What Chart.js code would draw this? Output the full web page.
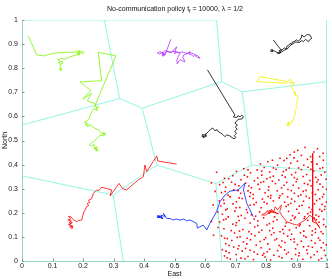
<!DOCTYPE html>
<html>
<head>
<meta charset="utf-8">
<script src="https://cdn.jsdelivr.net/npm/chart.js@4"></script>
<style>
  body { margin: 0; background: #fff; }
  #c { display: block; }
</style>
</head>
<body>
<canvas id="c" width="332" height="279"></canvas>
<script>
const tickValues = [0, 0.1, 0.2, 0.3, 0.4, 0.5, 0.6, 0.7, 0.8, 0.9, 1];
const tickLabels = ['0', '0.1', '0.2', '0.3', '0.4', '0.5', '0.6', '0.7', '0.8', '0.9', '1'];

// Voronoi cell edges [x1, y1, x2, y2]
const cellEdges = [
    [0, 1, 0.638, 1],
    [1, 1, 1, 0],
    [0.270, 1, 0.320, 0.674],
    [0, 0.564, 0.320, 0.674],
    [0.320, 0.674, 0.394, 0.634],
    [0.394, 0.634, 0.655, 0.744],
    [0.638, 1, 0.655, 0.744],
    [0.655, 0.744, 0.722, 0.702],
    [0.722, 0.702, 1, 0.744],
    [0.722, 0.702, 0.753, 0.398],
    [0.394, 0.634, 0.442, 0.398],
    [0.442, 0.398, 0.299, 0.274],
    [0, 0.353, 0.299, 0.274],
    [0.299, 0.274, 0.332, 0],
    [0.442, 0.398, 0.636, 0.321],
    [0.636, 0.321, 0.655, 0],
    [0.636, 0.321, 0.753, 0.398],
    [0.753, 0.398, 1, 0.371]
];

const greenA = [[0.021,0.934],[0.048,0.855],[0.07,0.851],[0.103,0.862],[0.146,0.866],[0.174,0.866],[0.18,0.872],[0.186,0.859],[0.179,0.864],[0.19,0.874],[0.185,0.853],[0.193,0.866],[0.199,0.858],[0.203,0.866],[0.196,0.871],[0.188,0.862],[0.183,0.857],[0.17,0.852],[0.155,0.846],[0.141,0.837],[0.128,0.842],[0.121,0.833],[0.116,0.838],[0.126,0.826],[0.119,0.822],[0.131,0.829],[0.134,0.821],[0.124,0.817],[0.129,0.812],[0.123,0.806],[0.128,0.8],[0.127,0.795]];
const greenB = [[0.237,0.638],[0.308,0.851],[0.250,0.866],[0.261,0.748],[0.190,0.743],[0.225,0.707],[0.199,0.671],[0.228,0.696],[0.214,0.665],[0.239,0.654],[0.245,0.634],[0.252,0.641],[0.241,0.628],[0.248,0.626],[0.236,0.632],[0.229,0.620],[0.224,0.605],[0.221,0.592],[0.212,0.58],[0.204,0.575],[0.214,0.572],[0.207,0.564],[0.218,0.568],[0.214,0.557],[0.225,0.565],[0.232,0.556],[0.239,0.551],[0.248,0.545],[0.256,0.538],[0.261,0.530],[0.272,0.523],[0.265,0.532],[0.275,0.528],[0.268,0.52],[0.258,0.522],[0.250,0.516],[0.244,0.508],[0.24,0.5],[0.234,0.495],[0.227,0.49],[0.221,0.481],[0.229,0.476],[0.236,0.484],[0.239,0.468],[0.246,0.474],[0.243,0.463],[0.235,0.469],[0.245,0.461]];
const purple = [[0.488,0.920],[0.469,0.855],[0.463,0.863],[0.452,0.868],[0.444,0.864],[0.452,0.858],[0.458,0.866],[0.466,0.861],[0.475,0.87],[0.49,0.865],[0.507,0.889],[0.5,0.86],[0.509,0.868],[0.518,0.862],[0.512,0.848],[0.507,0.830],[0.512,0.822],[0.507,0.820],[0.52,0.835],[0.534,0.826],[0.53,0.84],[0.528,0.852],[0.537,0.858],[0.545,0.862],[0.551,0.869],[0.548,0.858],[0.556,0.855],[0.562,0.849],[0.567,0.853],[0.575,0.845],[0.584,0.841],[0.578,0.85],[0.566,0.858],[0.55,0.865],[0.538,0.862],[0.525,0.868],[0.515,0.864],[0.498,0.87],[0.483,0.866],[0.47,0.874],[0.459,0.862],[0.466,0.852],[0.463,0.855]];
const blackTop = [[0.824,0.917],[0.851,0.873],[0.845,0.868],[0.838,0.861],[0.848,0.864],[0.843,0.873],[0.855,0.878],[0.86,0.884],[0.866,0.881],[0.868,0.891],[0.874,0.895],[0.879,0.903],[0.884,0.899],[0.886,0.908],[0.895,0.912],[0.899,0.918],[0.905,0.912],[0.911,0.917],[0.915,0.927],[0.917,0.938],[0.925,0.93],[0.935,0.94],[0.944,0.938],[0.95,0.924],[0.943,0.918],[0.939,0.91],[0.93,0.92],[0.922,0.91],[0.918,0.915],[0.908,0.906],[0.898,0.909],[0.889,0.902],[0.878,0.893],[0.872,0.882],[0.862,0.876],[0.852,0.868],[0.844,0.862],[0.835,0.866],[0.828,0.871],[0.819,0.873]];
const blackMid = [[0.608,0.793],[0.698,0.606],[0.693,0.598],[0.704,0.595],[0.708,0.603],[0.715,0.598],[0.72,0.605],[0.726,0.599],[0.722,0.59],[0.711,0.588],[0.704,0.582],[0.698,0.571],[0.706,0.565],[0.7,0.555],[0.705,0.547],[0.698,0.538],[0.703,0.529],[0.696,0.52],[0.701,0.512],[0.695,0.507],[0.688,0.513],[0.68,0.52],[0.671,0.523],[0.665,0.516],[0.659,0.524],[0.652,0.531],[0.645,0.535],[0.64,0.545],[0.632,0.541],[0.625,0.552],[0.618,0.546],[0.612,0.538],[0.606,0.53],[0.6,0.525],[0.603,0.517],[0.596,0.512],[0.594,0.52]];
const yellow = [[0.87,0.745],[0.78,0.765],[0.77,0.744],[0.868,0.738],[0.874,0.748],[0.879,0.755],[0.884,0.744],[0.877,0.739],[0.889,0.741],[0.895,0.737],[0.886,0.733],[0.881,0.727],[0.887,0.716],[0.892,0.703],[0.895,0.689],[0.903,0.685],[0.906,0.676],[0.9,0.668],[0.903,0.657],[0.898,0.648],[0.903,0.640],[0.895,0.627],[0.897,0.611],[0.892,0.598],[0.89,0.585],[0.884,0.582],[0.887,0.574],[0.879,0.571],[0.875,0.577],[0.873,0.564]];
const redA = [[0.507,0.402],[0.445,0.415],[0.442,0.436],[0.430,0.412],[0.409,0.371],[0.403,0.398],[0.398,0.350],[0.381,0.336],[0.343,0.295],[0.330,0.300],[0.318,0.322],[0.299,0.288],[0.289,0.270],[0.294,0.295],[0.261,0.306],[0.252,0.292],[0.245,0.295],[0.234,0.281],[0.228,0.258],[0.218,0.252],[0.222,0.243],[0.213,0.238],[0.219,0.231],[0.212,0.226],[0.207,0.212],[0.202,0.2],[0.198,0.182],[0.196,0.170],[0.185,0.168],[0.179,0.163],[0.17,0.17],[0.163,0.178],[0.158,0.186],[0.152,0.184],[0.16,0.175],[0.15,0.17],[0.162,0.166],[0.155,0.16],[0.165,0.158],[0.152,0.152],[0.16,0.15],[0.156,0.144],[0.165,0.147],[0.163,0.14]];
const blue = [[0.758,0.184],[0.737,0.239],[0.726,0.295],[0.731,0.322],[0.709,0.295],[0.682,0.29],[0.666,0.274],[0.649,0.246],[0.638,0.205],[0.616,0.156],[0.606,0.129],[0.594,0.149],[0.575,0.136],[0.573,0.156],[0.551,0.170],[0.54,0.167],[0.53,0.174],[0.518,0.170],[0.506,0.174],[0.496,0.170],[0.486,0.176],[0.474,0.177],[0.466,0.192],[0.463,0.198],[0.47,0.185],[0.455,0.19],[0.46,0.178],[0.448,0.188],[0.453,0.181],[0.445,0.182],[0.458,0.184],[0.462,0.175],[0.447,0.184]];
const redB = [[0.953,0.447],[0.953,0.163],[0.966,0.156],[0.977,0.136],[0.96,0.17],[0.944,0.191],[0.935,0.178],[0.928,0.170],[0.915,0.16],[0.901,0.149],[0.885,0.155],[0.868,0.163],[0.86,0.175],[0.851,0.19],[0.845,0.205],[0.851,0.232],[0.843,0.222],[0.838,0.212],[0.83,0.225],[0.825,0.2],[0.818,0.215],[0.815,0.205],[0.81,0.195],[0.805,0.21],[0.8,0.2],[0.792,0.196],[0.786,0.191],[0.797,0.19],[0.808,0.198],[0.82,0.208],[0.833,0.2],[0.841,0.196],[0.813,0.205]];

// scattered red dots in the lower right cell
const dots = [
 [0.664,0.021],[0.683,0.008],[0.702,0.027],[0.718,0.012],[0.741,0.019],[0.759,0.006],[0.772,0.028],[0.797,0.017],[0.815,0.004],[0.826,0.024],[0.852,0.013],[0.867,0.029],[0.884,0.009],[0.908,0.022],[0.921,0.007],[0.947,0.015],[0.958,0.026],[0.982,0.011],[0.995,0.023],
 [0.657,0.047],[0.679,0.034],[0.694,0.058],[0.722,0.041],[0.733,0.052],[0.761,0.037],[0.784,0.055],[0.793,0.031],[0.812,0.049],[0.838,0.043],[0.849,0.058],[0.873,0.036],[0.897,0.051],[0.909,0.033],[0.934,0.046],[0.952,0.057],[0.968,0.039],[0.991,0.044],
 [0.668,0.072],[0.688,0.085],[0.711,0.063],[0.726,0.079],[0.749,0.088],[0.768,0.066],[0.781,0.081],[0.806,0.071],[0.829,0.087],[0.843,0.064],[0.862,0.077],[0.881,0.089],[0.903,0.068],[0.916,0.082],[0.939,0.061],[0.961,0.074],[0.977,0.086],[0.998,0.067],
 [0.654,0.104],[0.673,0.093],[0.697,0.116],[0.715,0.101],[0.738,0.094],[0.752,0.112],[0.777,0.119],[0.799,0.097],[0.818,0.109],[0.835,0.092],[0.858,0.114],[0.871,0.103],[0.892,0.091],[0.913,0.117],[0.931,0.099],[0.951,0.108],[0.972,0.095],[0.987,0.113],[0.628,0.107],
 [0.662,0.134],[0.686,0.126],[0.701,0.147],[0.724,0.131],[0.744,0.122],[0.763,0.141],[0.786,0.128],[0.803,0.149],[0.822,0.136],[0.846,0.121],[0.863,0.144],[0.877,0.129],[0.899,0.138],[0.924,0.124],[0.943,0.146],[0.962,0.133],[0.981,0.121],[0.996,0.142],
 [0.648,0.162],[0.669,0.174],[0.691,0.153],[0.712,0.168],[0.731,0.177],[0.748,0.158],[0.773,0.166],[0.792,0.179],[0.811,0.155],[0.836,0.171],[0.866,0.159],[0.893,0.176],[0.912,0.152],[0.937,0.169],[0.958,0.178],[0.974,0.161],[0.989,0.173],[0.621,0.164],
 [0.657,0.194],[0.676,0.183],[0.698,0.207],[0.719,0.189],[0.739,0.201],[0.766,0.186],[0.779,0.204],[0.828,0.183],[0.874,0.206],[0.887,0.188],[0.908,0.198],[0.927,0.184],[0.946,0.203],[0.964,0.191],[0.983,0.207],[0.642,0.203],
 [0.652,0.228],[0.673,0.216],[0.692,0.237],[0.714,0.222],[0.736,0.213],[0.761,0.234],[0.784,0.221],[0.803,0.238],[0.866,0.226],[0.881,0.239],[0.901,0.215],[0.918,0.231],[0.941,0.222],[0.959,0.237],[0.976,0.214],[0.993,0.226],[0.627,0.232],
 [0.661,0.253],[0.682,0.266],[0.703,0.246],[0.722,0.259],[0.747,0.268],[0.768,0.243],[0.788,0.257],[0.807,0.268],[0.824,0.249],[0.843,0.262],[0.861,0.244],[0.884,0.257],[0.906,0.269],[0.923,0.248],[0.942,0.261],[0.966,0.251],[0.985,0.266],[0.998,0.245],
 [0.654,0.284],[0.676,0.273],[0.694,0.295],[0.717,0.281],[0.741,0.291],[0.758,0.276],[0.779,0.298],[0.797,0.283],[0.816,0.272],[0.837,0.291],[0.854,0.279],[0.872,0.297],[0.893,0.281],[0.914,0.274],[0.931,0.293],[0.952,0.282],[0.971,0.296],[0.989,0.277],[0.633,0.289],
 [0.648,0.317],[0.668,0.306],[0.687,0.327],[0.711,0.312],[0.733,0.323],[0.752,0.304],[0.774,0.318],[0.792,0.329],[0.809,0.308],[0.831,0.321],[0.851,0.303],[0.868,0.326],[0.889,0.314],[0.907,0.302],[0.926,0.322],[0.948,0.311],[0.967,0.328],[0.986,0.307],[0.621,0.324],
 [0.664,0.343],[0.691,0.354],[0.718,0.337],[0.739,0.349],[0.762,0.333],[0.786,0.356],[0.803,0.341],[0.824,0.352],[0.842,0.336],[0.863,0.348],[0.884,0.358],[0.902,0.339],[0.922,0.351],[0.944,0.334],[0.963,0.347],[0.981,0.357],[0.997,0.339],
 [0.703,0.372],[0.727,0.383],[0.749,0.366],[0.771,0.378],[0.794,0.388],[0.812,0.369],[0.833,0.381],[0.857,0.371],[0.876,0.386],[0.897,0.367],[0.916,0.379],[0.938,0.389],[0.956,0.373],[0.977,0.384],[0.993,0.368],[0.638,0.368],
 [0.782,0.403],[0.806,0.412],[0.838,0.398],[0.859,0.417],[0.881,0.406],[0.903,0.414],[0.924,0.397],[0.949,0.411],[0.967,0.402],[0.988,0.418],
 [0.846,0.426],[0.879,0.441],[0.904,0.459],[0.928,0.471],[0.946,0.433],[0.969,0.466],[0.987,0.447],[0.916,0.438],
 [0.673,0.013],[0.731,0.008],[0.789,0.024],[0.843,0.019],[0.897,0.027],[0.936,0.031],[0.973,0.004],
 [0.669,0.041],[0.708,0.051],[0.748,0.045],[0.804,0.038],[0.861,0.046],[0.923,0.059],[0.981,0.055],
 [0.679,0.064],[0.737,0.071],[0.794,0.089],[0.852,0.083],[0.893,0.079],[0.949,0.085],[0.988,0.075],
 [0.664,0.095],[0.706,0.098],[0.764,0.105],[0.826,0.117],[0.884,0.111],[0.924,0.105],[0.962,0.118],
 [0.643,0.139],[0.713,0.124],[0.773,0.147],[0.812,0.126],[0.855,0.131],[0.909,0.146],[0.952,0.125],[0.989,0.151],
 [0.661,0.171],[0.703,0.159],[0.761,0.174],[0.824,0.164],[0.882,0.169],[0.925,0.176],[0.965,0.171],
 [0.668,0.212],[0.709,0.185],[0.752,0.192],[0.896,0.182],[0.937,0.196],[0.973,0.185],[0.992,0.214],
 [0.663,0.239],[0.702,0.221],[0.748,0.231],[0.794,0.244],[0.873,0.233],[0.909,0.228],[0.951,0.214],[0.984,0.235],
 [0.647,0.249],[0.712,0.262],[0.758,0.259],[0.815,0.261],[0.871,0.266],[0.894,0.247],[0.932,0.268],[0.976,0.258],
 [0.666,0.288],[0.708,0.292],[0.749,0.283],[0.808,0.294],[0.846,0.271],[0.883,0.292],[0.922,0.289],[0.962,0.276],[0.998,0.298],
 [0.659,0.326],[0.699,0.318],[0.744,0.311],[0.783,0.326],[0.821,0.331],[0.859,0.314],[0.899,0.329],[0.937,0.318],[0.977,0.319],
 [0.678,0.341],[0.729,0.356],[0.773,0.344],[0.814,0.347],[0.853,0.356],[0.893,0.346],[0.933,0.359],[0.971,0.337],
 [0.741,0.378],[0.786,0.373],[0.824,0.386],[0.866,0.378],[0.907,0.386],[0.947,0.381],[0.986,0.387],
 [0.821,0.418],[0.868,0.426],[0.892,0.428],[0.936,0.422],[0.976,0.433],[0.957,0.452],[0.893,0.452]
];

const toPts = arr => arr.map(p => ({ x: p[0], y: p[1] }));

const datasets = [];
cellEdges.forEach(e => {
    datasets.push({
        data: [{ x: e[0], y: e[1] }, { x: e[2], y: e[3] }],
        showLine: true, borderColor: '#86f5de', borderWidth: 0.9,
        pointRadius: 0, order: 5
    });
});
datasets.push({
    data: toPts(dots), showLine: false, pointStyle: 'rect',
    pointRadius: 1.1, pointBorderWidth: 0, pointBackgroundColor: '#ff0000', order: 4
});

function pathSet(arr, color) {
    const last = arr.length - 1;
    return {
        data: toPts(arr), showLine: true, borderColor: color, borderWidth: 0.8,
        pointStyle: 'rect', pointBackgroundColor: 'rgba(0,0,0,0)', pointBorderColor: color,
        pointBorderWidth: 0.8,
        pointRadius: ctx => ctx.dataIndex === last ? 1.3 : 0,
        order: 2
    };
}
datasets.push(pathSet(greenA, '#7cf500'));
datasets.push(pathSet(greenB, '#7cf500'));
datasets.push(pathSet(purple, '#b030ff'));
datasets.push(pathSet(blackTop, '#000000'));
datasets.push(pathSet(blackMid, '#000000'));
datasets.push(pathSet(yellow, '#f0f000'));
datasets.push(pathSet(redA, '#ff0000'));
datasets.push(pathSet(blue, '#0020ff'));
datasets.push(pathSet(redB, '#ff0000'));

const font = '"Liberation Sans", Arial, sans-serif';

const decor = {
    id: 'decor',
    afterDraw(chart) {
        const ctx = chart.ctx;
        const xs = chart.scales.x, ys = chart.scales.y;
        const a = chart.chartArea;
        ctx.save();
        // axes
        ctx.strokeStyle = '#95d6c8';
        ctx.lineWidth = 1;
        ctx.beginPath();
        ctx.moveTo(a.left + 0.5, a.top);
        ctx.lineTo(a.left + 0.5, a.bottom + 0.5);
        ctx.lineTo(a.right, a.bottom + 0.5);
        ctx.stroke();
        // inward ticks
        ctx.strokeStyle = '#7a9a94';
        ctx.beginPath();
        tickValues.forEach(v => {
            const px = Math.round(xs.getPixelForValue(v)) + 0.5;
            ctx.moveTo(px, a.bottom); ctx.lineTo(px, a.bottom - 2.5);
            const py = Math.round(ys.getPixelForValue(v)) + 0.5;
            ctx.moveTo(a.left, py); ctx.lineTo(a.left + 2.5, py);
        });
        ctx.stroke();
        // title with subscript
        ctx.fillStyle = '#111';
        ctx.textBaseline = 'alphabetic';
        const p1 = 'No-communication policy t', p2 = 'f', p3 = ' = 10000, \u03bb = 1/2';
        ctx.font = '7px ' + font;
        const w1 = ctx.measureText(p1).width, w3 = ctx.measureText(p3).width;
        ctx.font = '5px ' + font;
        const w2 = ctx.measureText(p2).width;
        const x0 = 175 - (w1 + w2 + w3) / 2;
        ctx.font = '7px ' + font;
        ctx.textAlign = 'left';
        ctx.fillText(p1, x0, 11);
        ctx.font = '5px ' + font;
        ctx.fillText(p2, x0 + w1, 13);
        ctx.font = '7px ' + font;
        ctx.fillText(p3, x0 + w1 + w2, 11);
        // axis titles
        ctx.textAlign = 'center';
        ctx.fillText('East', (a.left + a.right) / 2, 276);
        ctx.translate(7, (a.top + a.bottom) / 2);
        ctx.rotate(-Math.PI / 2);
        ctx.fillText('North', 0, 0);
        ctx.restore();
    }
};

new Chart(document.getElementById('c'), {
    type: 'scatter',
    data: { datasets },
    options: {
        responsive: false,
        animation: false,
        layout: { padding: { top: 20, right: 5, left: 0, bottom: 0 } },
        plugins: { legend: { display: false }, tooltip: { enabled: false } },
        scales: {
            x: {
                type: 'linear', min: 0, max: 1,
                afterBuildTicks: s => { s.ticks = tickValues.map(v => ({ value: v })); },
                afterFit: s => { s.height = 18; },
                grid: { display: false, drawTicks: false },
                border: { display: false },
                ticks: {
                    padding: 1, color: '#222', font: { size: 7, family: font },
                    maxRotation: 0, autoSkip: false,
                    callback: (v, i) => tickLabels[i]
                }
            },
            y: {
                type: 'linear', min: 0, max: 1,
                afterBuildTicks: s => { s.ticks = tickValues.map(v => ({ value: v })); },
                afterFit: s => { s.width = 22; },
                grid: { display: false, drawTicks: false },
                border: { display: false },
                ticks: {
                    padding: 4, color: '#222', font: { size: 7, family: font },
                    autoSkip: false,
                    callback: (v, i) => tickLabels[i]
                }
            }
        }
    },
    plugins: [decor]
});
</script>
</body>
</html>
